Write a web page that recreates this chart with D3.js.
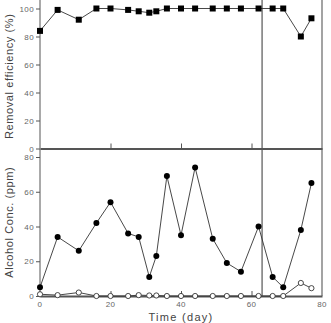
<!DOCTYPE html>
<html>
<head>
<meta charset="utf-8">
<script src="https://cdn.jsdelivr.net/npm/d3@7"></script>
<style>
body { margin: 0; background: #fff; }
svg { display: block; }
.axis text { font-family: "Liberation Sans", Arial, sans-serif; font-size: 8px; fill: #666; letter-spacing: 0.4px; }
.axis path, .axis line { stroke: #555; }
.title { font-family: "Liberation Sans", Arial, sans-serif; font-size: 11px; fill: #444; letter-spacing: 0.6px; }
</style>
</head>
<body>
<script>
// sampling days (same for both panels)
var days = [0, 5, 11, 16, 20, 25, 28, 31, 33, 36, 40, 44, 49, 53, 57, 62, 66, 69, 74, 77];
// removal efficiency (%)
var efficiency = [84, 99, 92, 100, 100, 99, 98, 97, 98, 100, 100, 100, 100, 100, 100, 100, 100, 100, 80, 93];
// alcohol concentration (ppm), inlet and outlet
var inlet = [5, 34, 26, 42, 54, 36, 34, 11, 23, 69, 35, 74, 33, 19, 14, 40, 11, 5, 38, 65];
var outlet = [1, 0.5, 2, 0, 0, 0, 0.5, 0.3, 0.3, 0, 0, 0, 0, 0, 0, 0, 0, 0, 7.5, 4.5];
var changeDay = 63;
var xTicks = [0, 20, 40, 60, 80];
var effTicks = [0, 20, 40, 60, 80, 100];
var concTicks = [0, 20, 40, 60, 80];

var width = 331, height = 323;
var svg = d3.select("body").append("svg").attr("width", width).attr("height", height);

var x = d3.scaleLinear().domain([0, 80]).range([40, 322]);
var yTop = d3.scaleLinear().domain([0, 100]).range([148.5, 8.5]);
var yBot = d3.scaleLinear().domain([0, 80]).range([296, 157]);
var topY = 0, midY = 148.5, botY = 296;

// frame
svg.append("line").attr("x1", x(80)).attr("x2", x(80)).attr("y1", topY).attr("y2", botY)
    .attr("stroke", "#666").attr("stroke-width", 1.2);
svg.append("line").attr("x1", x(changeDay)).attr("x2", x(changeDay)).attr("y1", topY).attr("y2", botY)
    .attr("stroke", "#555").attr("stroke-width", 1.2);

// y axes
svg.append("g").attr("class", "axis").attr("transform", "translate(" + x(0) + ",0)")
    .call(d3.axisLeft(yTop).tickValues(effTicks).tickSize(4).tickPadding(2).tickSizeOuter(0))
    .call(function (g) { g.select(".domain").attr("d", "M0," + topY + "V" + midY); });
svg.append("g").attr("class", "axis").attr("transform", "translate(" + x(0) + ",0)")
    .call(d3.axisLeft(yBot).tickValues(concTicks).tickSize(4).tickPadding(2).tickSizeOuter(0))
    .call(function (g) { g.select(".domain").attr("d", "M0," + midY + "V" + botY); });

// x axes (ticks point up)
svg.append("g").attr("class", "axis").attr("transform", "translate(0," + midY + ")")
    .call(d3.axisTop(x).tickValues([20, 40, 60]).tickSize(5).tickSizeOuter(0).tickFormat(""))
    .call(function (g) { g.select(".domain").attr("stroke-width", 2); });
svg.append("g").attr("class", "axis").attr("transform", "translate(0," + botY + ")")
    .call(d3.axisTop(x).tickValues([20, 40, 60]).tickSize(5).tickSizeOuter(0).tickFormat(""))
    .call(function (g) { g.select(".domain").attr("stroke-width", 2); });
svg.append("g").attr("class", "axis")
    .selectAll("text").data(xTicks).enter().append("text")
    .attr("x", function (d) { return x(d); })
    .attr("y", botY + 11)
    .attr("text-anchor", "middle")
    .text(function (d) { return d; });

// titles
svg.append("text").attr("class", "title")
    .attr("transform", "translate(13," + ((topY + midY) / 2 + 2) + ") rotate(-90)")
    .attr("text-anchor", "middle").text("Removal efficiency (%)");
svg.append("text").attr("class", "title")
    .attr("transform", "translate(13," + ((midY + botY) / 2) + ") rotate(-90)")
    .attr("text-anchor", "middle").text("Alcohol Conc. (ppm)");
svg.append("text").attr("class", "title")
    .attr("x", (x(0) + x(80)) / 2).attr("y", 321)
    .attr("text-anchor", "middle").style("letter-spacing", "1.3px").text("Time (day)");

// top panel: efficiency
var effData = days.map(function (d, i) { return [d, efficiency[i]]; });
svg.append("path").datum(effData)
    .attr("fill", "none").attr("stroke", "#333").attr("stroke-width", 0.9)
    .attr("d", d3.line().x(function (d) { return x(d[0]); }).y(function (d) { return yTop(d[1]); }));
svg.append("g").selectAll("rect").data(effData).enter().append("rect")
    .attr("x", function (d) { return x(d[0]) - 3; })
    .attr("y", function (d) { return yTop(d[1]) - 3; })
    .attr("width", 6).attr("height", 6)
    .attr("fill", "#000");

// bottom panel: inlet / outlet
var inData = days.map(function (d, i) { return [d, inlet[i]]; });
var outData = days.map(function (d, i) { return [d, outlet[i]]; });
var concLine = d3.line().x(function (d) { return x(d[0]); }).y(function (d) { return yBot(d[1]); });
svg.append("path").datum(outData)
    .attr("fill", "none").attr("stroke", "#333").attr("stroke-width", 0.9).attr("d", concLine);
svg.append("path").datum(inData)
    .attr("fill", "none").attr("stroke", "#333").attr("stroke-width", 0.9).attr("d", concLine);
svg.append("g").selectAll("circle").data(outData).enter().append("circle")
    .attr("cx", function (d) { return x(d[0]); })
    .attr("cy", function (d) { return yBot(d[1]); })
    .attr("r", 2.6)
    .attr("fill", "#fff").attr("stroke", "#333").attr("stroke-width", 0.9);
svg.append("g").selectAll("circle").data(inData).enter().append("circle")
    .attr("cx", function (d) { return x(d[0]); })
    .attr("cy", function (d) { return yBot(d[1]); })
    .attr("r", 3)
    .attr("fill", "#000");
</script>
</body>
</html>
